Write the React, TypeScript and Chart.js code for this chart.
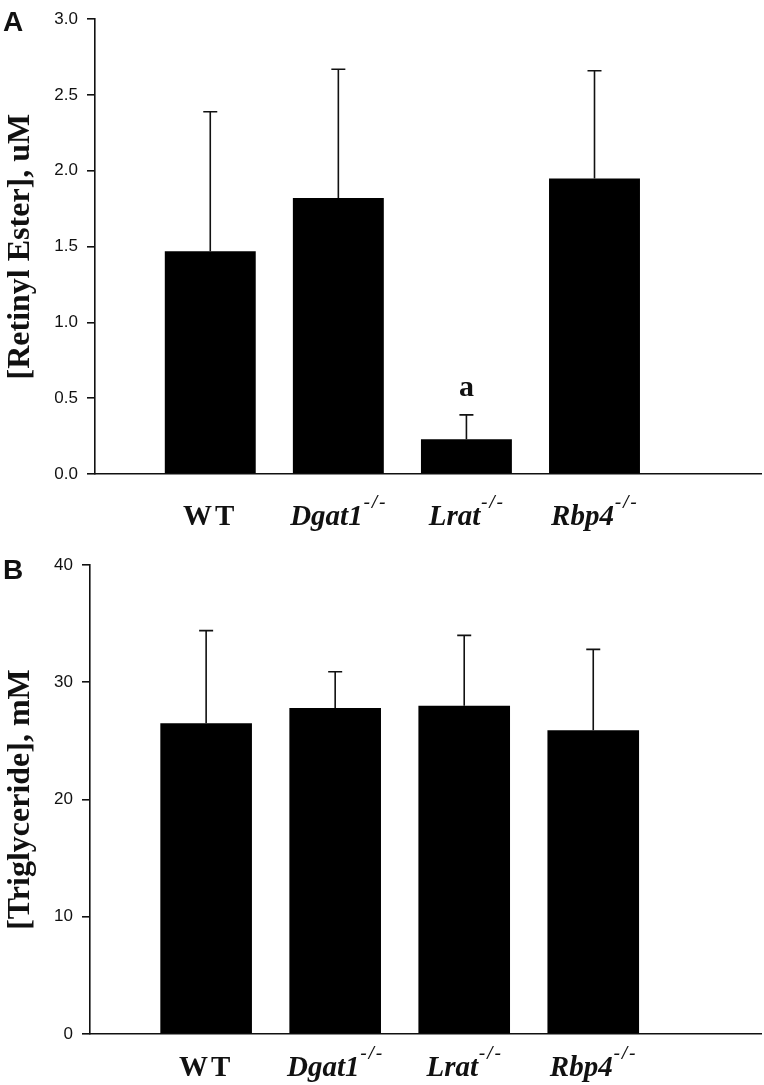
import React, { useEffect, useRef } from 'react';
import { Chart, registerables } from 'chart.js';

Chart.register(...registerables);

// ---- data ----
const categories = ['WT', 'Dgat1', 'Lrat', 'Rbp4'];
const categorySuperscripts = ['', '-/-', '-/-', '-/-'];
const categoryItalic = [false, true, true, true];
const categoryPositions = [1, 2, 3, 4];

const retinylEsterMeans = [1.47, 1.82, 0.23, 1.95];
const retinylEsterSD = [0.92, 0.85, 0.16, 0.71];
const retinylEsterSignificance = ['', '', 'a', ''];
const retinylEsterTicks = [0, 0.5, 1.0, 1.5, 2.0, 2.5, 3.0];

const triglycerideMeans = [26.5, 27.8, 28.0, 25.9];
const triglycerideSD = [7.9, 3.1, 6.0, 6.9];
const triglycerideSignificance = ['', '', '', ''];
const triglycerideTicks = [0, 10, 20, 30, 40];

const SERIF = '"Liberation Serif", "Times New Roman", serif';
const SANS = '"Liberation Sans", Arial, sans-serif';
const INK = '#111';

type PanelProps = {
  letter: string;
  title: string;
  means: number[];
  sd: number[];
  sig: string[];
  ticks: number[];
  decimals: number;
  height: number;
  top: number;
  axisLeft: number;
  plotTop: number;
  plotBottom: number;
  labelOffset: number;
  letterTop: number;
};

function Panel(p: PanelProps) {
  const ref = useRef<HTMLCanvasElement | null>(null);
  useEffect(() => {
    const canvas = ref.current;
    if (!canvas) return;
    const yMax = p.ticks[p.ticks.length - 1];

    const overlay = {
      id: 'overlay',
      afterDatasetsDraw(chart: any) {
        const ctx = chart.ctx as CanvasRenderingContext2D;
        const meta = chart.getDatasetMeta(0);
        const ys = chart.scales.y;
        ctx.save();
        ctx.strokeStyle = INK;
        ctx.lineWidth = 1.6;
        meta.data.forEach((bar: any, i: number) => {
          const yTop = ys.getPixelForValue(p.means[i] + p.sd[i]);
          ctx.beginPath();
          ctx.moveTo(bar.x, bar.y);
          ctx.lineTo(bar.x, yTop);
          ctx.moveTo(bar.x - 7, yTop);
          ctx.lineTo(bar.x + 7, yTop);
          ctx.stroke();
          if (p.sig[i]) {
            ctx.fillStyle = INK;
            ctx.font = `bold 30px ${SERIF}`;
            ctx.textAlign = 'center';
            ctx.textBaseline = 'alphabetic';
            ctx.fillText(p.sig[i], bar.x, yTop - 19);
          }
        });
        ctx.restore();
      },
      afterDraw(chart: any) {
        const ctx = chart.ctx as CanvasRenderingContext2D;
        const area = chart.chartArea;
        const meta = chart.getDatasetMeta(0);
        ctx.save();
        ctx.fillStyle = INK;
        // category labels
        meta.data.forEach((bar: any, i: number) => {
          const mainFont = `${categoryItalic[i] ? 'italic ' : ''}bold 29px ${SERIF}`;
          const supFont = `italic bold 19px ${SERIF}`;
          const mainSpacing = categoryItalic[i] ? '0px' : '3px';
          ctx.font = mainFont;
          (ctx as any).letterSpacing = mainSpacing;
          const mainW = ctx.measureText(categories[i]).width;
          ctx.font = supFont;
          (ctx as any).letterSpacing = '2px';
          const supW = categorySuperscripts[i] ? ctx.measureText(categorySuperscripts[i]).width : 0;
          const total = mainW + supW;
          const x0 = bar.x - total / 2;
          const base = area.bottom + p.labelOffset;
          ctx.textAlign = 'left';
          ctx.textBaseline = 'alphabetic';
          ctx.font = mainFont;
          (ctx as any).letterSpacing = mainSpacing;
          ctx.fillText(categories[i], x0, base);
          if (categorySuperscripts[i]) {
            ctx.font = supFont;
            (ctx as any).letterSpacing = '2px';
            ctx.fillText(categorySuperscripts[i], x0 + mainW + 1, base - 17);
          }
        });
        (ctx as any).letterSpacing = '0px';
        // y-axis title
        ctx.save();
        ctx.translate(21, (area.top + area.bottom) / 2);
        ctx.rotate(-Math.PI / 2);
        ctx.font = `bold 32px ${SERIF}`;
        ctx.textAlign = 'center';
        ctx.textBaseline = 'middle';
        ctx.fillText(p.title, 0, 0);
        ctx.restore();
        // panel letter
        ctx.font = `bold 28px ${SANS}`;
        ctx.textAlign = 'left';
        ctx.textBaseline = 'top';
        ctx.fillText(p.letter, 3, p.letterTop);
        ctx.restore();
      },
    };

    const chart = new Chart(canvas, {
      type: 'bar',
      data: {
        datasets: [
          {
            data: categoryPositions.map((x, i) => ({ x, y: p.means[i] })) as any,
            backgroundColor: '#000',
            borderWidth: 0,
            barPercentage: 1,
            categoryPercentage: 0.71,
          },
        ],
      },
      options: {
        animation: false,
        responsive: false,
        maintainAspectRatio: false,
        layout: { padding: { top: p.plotTop, right: 3, left: 0, bottom: 0 } },
        plugins: {
          legend: { display: false },
          tooltip: { enabled: false },
        },
        scales: {
          x: {
            type: 'linear',
            min: 0.1,
            max: 5.3,
            offset: false,
            afterBuildTicks: (s: any) => {
              s.ticks = categoryPositions.map((v) => ({ value: v }));
            },
            grid: { display: false },
            border: { display: true, color: INK, width: 1.6 },
            ticks: { display: false },
            afterFit: (s: any) => {
              s.height = p.height - p.plotBottom;
            },
          },
          y: {
            min: 0,
            max: yMax,
            afterBuildTicks: (s: any) => {
              s.ticks = p.ticks.map((v) => ({ value: v }));
            },
            ticks: {
              callback: (v: any) => Number(v).toFixed(p.decimals),
              font: { family: SANS, size: 17 },
              color: INK,
              padding: 9,
            },
            grid: {
              display: true,
              drawOnChartArea: false,
              drawTicks: true,
              tickLength: 8,
              color: INK,
              lineWidth: 1.6,
            },
            border: { display: true, color: INK, width: 1.6 },
            afterFit: (s: any) => {
              s.width = p.axisLeft;
            },
          },
        },
      },
      plugins: [overlay],
    });
    return () => chart.destroy();
  }, []);

  return (
    <canvas
      ref={ref}
      width={764}
      height={p.height}
      style={{ position: 'absolute', left: 0, top: p.top, width: 764, height: p.height }}
    />
  );
}

export default function App() {
  return (
    <div style={{ position: 'absolute', left: 0, top: 0, width: 764, height: 1085, background: '#fff' }}>
      <Panel
        letter="A"
        title="[Retinyl Ester], uM"
        means={retinylEsterMeans}
        sd={retinylEsterSD}
        sig={retinylEsterSignificance}
        ticks={retinylEsterTicks}
        decimals={1}
        height={540}
        top={0}
        axisLeft={95}
        plotTop={9}
        plotBottom={474}
        labelOffset={51}
        letterTop={9}
      />
      <Panel
        letter="B"
        title="[Triglyceride], mM"
        means={triglycerideMeans}
        sd={triglycerideSD}
        sig={triglycerideSignificance}
        ticks={triglycerideTicks}
        decimals={0}
        height={545}
        top={540}
        axisLeft={90}
        plotTop={25}
        plotBottom={494}
        labelOffset={42}
        letterTop={17}
      />
    </div>
  );
}
